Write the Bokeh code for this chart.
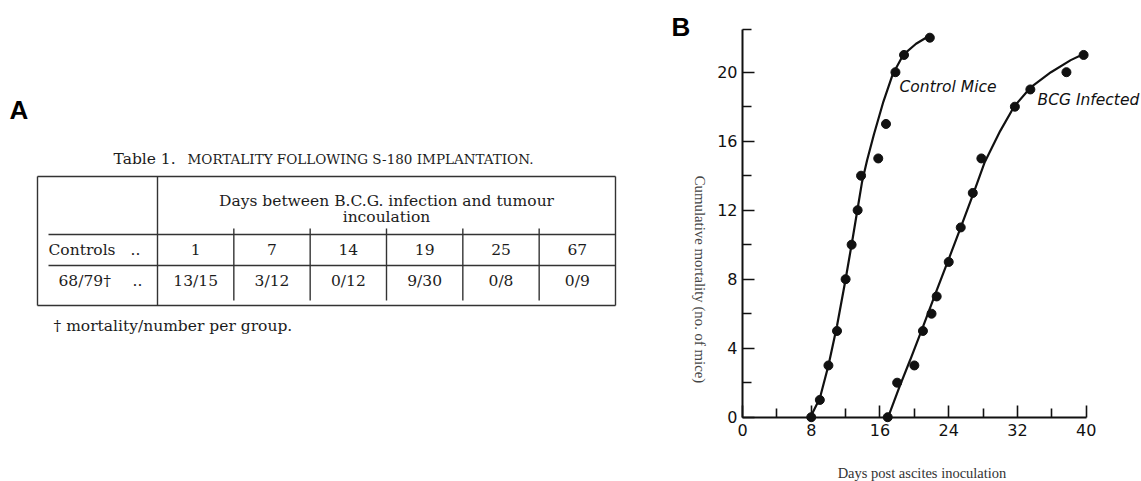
import math
from bokeh.plotting import figure
from bokeh.layouts import row
from bokeh.models import Range1d, FixedTicker
from bokeh.core.properties import value
from bokeh.embed import file_html
from bokeh.resources import INLINE

# ---------------- Panel A: table contents ----------------
table_title_lead = "Table 1."
table_title_caps = "MORTALITY FOLLOWING S-180 IMPLANTATION."
header_line1 = "Days between B.C.G. infection and tumour"
header_line2 = "incoulation"
row_labels = ["Controls", "68/79†"]
interval_days = ["1", "7", "14", "19", "25", "67"]
mortality = ["13/15", "3/12", "0/12", "9/30", "0/8", "0/9"]
footnote = "† mortality/number per group."

# ---------------- Panel B: data ----------------
ctrl_days = [8, 9, 10, 11, 12, 12.7, 13.4, 13.8, 15.8, 16.7, 17.8, 18.8, 21.8]
ctrl_mort = [0, 1, 3, 5, 8, 10, 12, 14, 15, 17, 20, 21, 22]
bcg_days = [16.9, 18, 20, 21, 22, 22.6, 24, 25.4, 26.8, 27.8, 31.7, 33.5, 37.7, 39.7]
bcg_mort = [0, 2, 3, 5, 6, 7, 9, 11, 13, 15, 18, 19, 20, 21]

# fitted curves as drawn in the figure
ctrl_fit_days = [7.9, 9, 10, 11, 12, 12.8, 13.4, 13.9, 14.5, 15.3, 16.4, 17.5, 18.7, 20.2, 21.7]
ctrl_fit_mort = [0, 1.1, 3.0, 5.3, 8.0, 10.3, 12.1, 13.6, 14.9, 16.4, 18.3, 19.9, 21.0, 21.65, 22.1]
bcg_fit_days = [16.95, 18.3, 19.5, 20.9, 22.6, 23.95, 25.4, 26.9, 28.2, 30.0, 31.6, 33.5, 35.9, 38.2, 39.7]
bcg_fit_mort = [0, 1.8, 3.3, 5.1, 7.35, 9.1, 11.0, 13.0, 14.8, 16.6, 18.0, 19.1, 20.0, 20.7, 21.05]

x_major = [0, 8, 16, 24, 32, 40]
x_minor = [4, 12, 20, 28, 36]
y_major = [0, 4, 8, 12, 16, 20]
y_minor = [2, 6, 10, 14, 18, 22.5]

x_title = "Days post ascites inoculation"
y_title = "Cumulative mortality (no. of mice)"
series_names = ["Control Mice", "BCG Infected"]

TSERIF = value("DejaVu Serif")
LSERIF = value("Liberation Serif")
SANS = value("DejaVu Sans")
TXT = "#1c1c1c"
H = 481

# =============== Panel A figure (table) ===============
WA = 660
pA = figure(width=WA, height=H, x_range=Range1d(0, WA), y_range=Range1d(H, 0),
            min_border=0, toolbar_location=None, output_backend="svg", title=None)
pA.axis.visible = False
pA.grid.visible = False
pA.outline_line_color = None

pA.text(x=[9], y=[109], text=["A"], text_font=value("Liberation Sans"), text_font_style="bold",
        text_font_size="26px", text_baseline="middle", text_color="#000000")

# table geometry (page pixels)
T_L, T_R, T_T, T_B = 37, 615, 176, 305
C0 = 157
ncol = len(interval_days)
cw = (T_R - C0) / ncol
col_centers = [C0 + cw * (i + 0.5) for i in range(ncol)]
H1, H2 = 234, 265
R1, R2 = 249, 280

# title
pA.text(x=[113], y=[158], text=[table_title_lead], text_font=TSERIF, text_font_size="15.5px",
        text_baseline="middle", text_color=TXT)
pA.text(x=[187], y=[158.5], text=[table_title_caps], text_font=TSERIF, text_font_size="13.5px",
        text_baseline="middle", text_color=TXT)

# lines
x0 = [T_L, T_L, T_L, T_R, C0, 48, 48] + [C0 + cw * i for i in range(1, ncol)]
x1 = [T_R, T_R, T_L, T_R, C0, T_R, T_R] + [C0 + cw * i for i in range(1, ncol)]
y0 = [T_T, T_B, T_T, T_T, T_T, H1, H2] + [228] * (ncol - 1)
y1 = [T_T, T_B, T_B, T_B, T_B, H1, H2] + [300] * (ncol - 1)
pA.segment(x0=x0, y0=y0, x1=x1, y1=y1, line_color="#333333", line_width=1.4)

# header
hc = (C0 + T_R) / 2
pA.text(x=[hc, hc], y=[200, 216], text=[header_line1, header_line2], text_font=TSERIF,
        text_font_size="15.5px", text_align="center", text_baseline="middle", text_color=TXT)
# row labels
pA.text(x=[48, 58], y=[R1, R2], text=row_labels, text_font=TSERIF, text_font_size="15.5px",
        text_baseline="middle", text_color=TXT)
pA.text(x=[130, 132], y=[R1, R2], text=["..", ".."], text_font=TSERIF, text_font_size="15.5px",
        text_baseline="middle", text_color=TXT)
pA.text(x=col_centers, y=[R1] * ncol, text=interval_days, text_font=TSERIF, text_font_size="15.5px",
        text_align="center", text_baseline="middle", text_color=TXT)
pA.text(x=col_centers, y=[R2] * ncol, text=mortality, text_font=TSERIF, text_font_size="15.5px",
        text_align="center", text_baseline="middle", text_color=TXT)
pA.text(x=[53], y=[325], text=[footnote], text_font=TSERIF, text_font_size="15.5px",
        text_baseline="middle", text_color=TXT)

# =============== Panel B figure (chart) ===============
WB = 481
OX = 660            # panel B left edge in the page
X0_PX, X40_PX = 742.0, 1085.7
Y0_PX, Y20_PX = 416.7, 71.7
sx = (X40_PX - X0_PX) / 40.0
sy = (Y0_PX - Y20_PX) / 20.0
xs = (OX - X0_PX) / sx
xe = (OX + WB - X0_PX) / sx
ys = -(H - Y0_PX) / sy
ye = Y0_PX / sy


def dx(px):
    return (px - X0_PX) / sx


def dy(py):
    return (Y0_PX - py) / sy


pB = figure(width=WB, height=H, x_range=Range1d(xs, xe), y_range=Range1d(ys, ye),
            min_border=0, toolbar_location=None, output_backend="svg", title=None)
pB.grid.visible = False
pB.outline_line_color = None

for ax in (pB.xaxis[0], pB.yaxis[0]):
    ax.fixed_location = 0
    ax.axis_line_width = 2
    ax.axis_line_color = "#111111"
    ax.major_tick_line_width = 1.6
    ax.minor_tick_line_width = 1.6
    ax.major_tick_line_color = "#111111"
    ax.minor_tick_line_color = "#111111"
    ax.major_tick_out = 0
    ax.minor_tick_out = 0
    ax.major_tick_in = 12
    ax.minor_tick_in = 9
    ax.major_label_text_font = "DejaVu Sans"
    ax.major_label_text_font_size = "16px"
    ax.major_label_text_color = "#111111"

pB.xaxis[0].bounds = (0, 40)
pB.yaxis[0].bounds = (0, 22.5)
pB.xaxis[0].ticker = FixedTicker(ticks=x_major, minor_ticks=x_minor)
pB.yaxis[0].ticker = FixedTicker(ticks=y_major, minor_ticks=y_minor)
pB.xaxis[0].major_label_standoff = 7
pB.yaxis[0].major_label_standoff = 5

# axis titles
pB.text(x=[dx(921.5)], y=[dy(472)], text=[x_title], text_font=LSERIF, text_font_size="14.5px",
        text_align="center", text_baseline="middle", text_color="#333333")
pB.text(x=[dx(699)], y=[dy(279)], text=[y_title], text_font=LSERIF, text_font_size="14.8px",
        text_align="center", text_baseline="middle", angle=-math.pi / 2, text_color="#444444")

pB.line(ctrl_fit_days, ctrl_fit_mort, line_color="#111111", line_width=2.2)
pB.line(bcg_fit_days, bcg_fit_mort, line_color="#111111", line_width=2.2)
pB.scatter(ctrl_days, ctrl_mort, size=9, color="#111111")
pB.scatter(bcg_days, bcg_mort, size=9, color="#111111")

pB.text(x=[dx(899), dx(1037)], y=[dy(86), dy(99)],
        text=series_names, text_font=SANS, text_font_style="italic", text_font_size="15.5px",
        text_baseline="middle", text_color="#111111")

pB.text(x=[dx(671)], y=[dy(26)], text=["B"], text_font=value("Liberation Sans"),
        text_font_style="bold", text_font_size="26px", text_baseline="middle",
        text_color="#000000")

layout = row(pA, pB, spacing=0)
open("out.html", "w").write(file_html(layout, INLINE))
